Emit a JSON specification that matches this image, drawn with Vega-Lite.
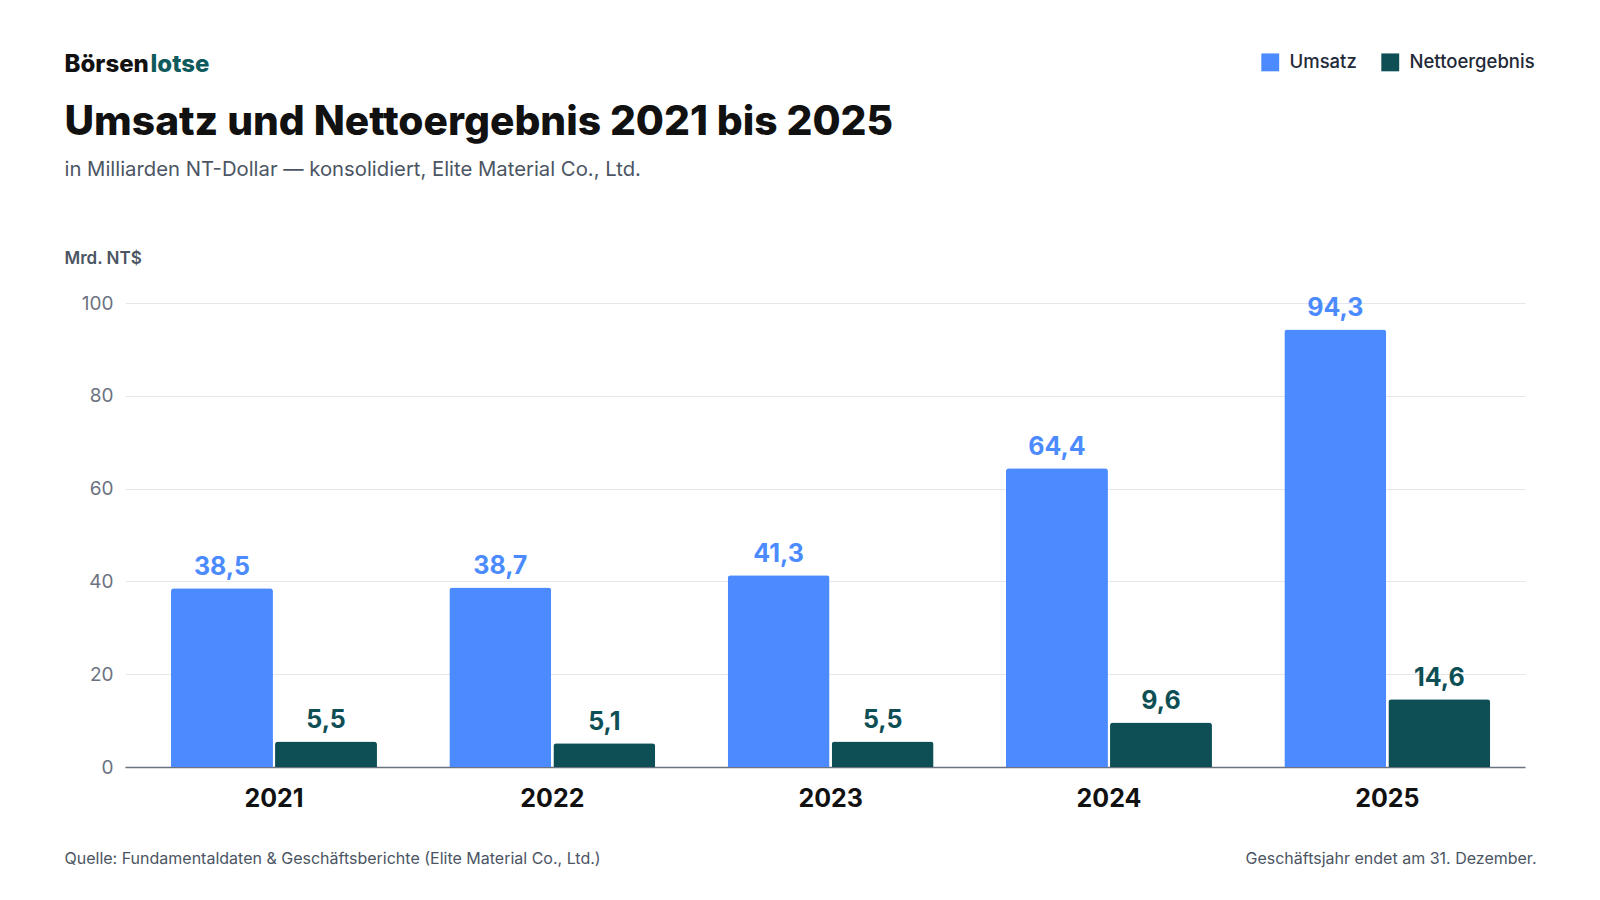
{
  "$schema": "https://vega.github.io/schema/vega-lite/v6.json",
  "autosize": "none",
  "width": 1400,
  "height": 464,
  "padding": {"left": 125, "top": 303, "right": 75, "bottom": 133},
  "background": "white",
  "config": {
    "font": "Inter",
    "locale": {"number": {"decimal": ",", "thousands": ".", "grouping": [3], "currency": ["", " €"]}},
    "view": {"stroke": null},
    "axis": {"labelFont": "Inter", "titleFont": "Inter"}
  },
  "data": {
    "values": [
      {"Jahr": "2021", "Kennzahl": "Umsatz", "Wert": 38.5},
      {"Jahr": "2021", "Kennzahl": "Nettoergebnis", "Wert": 5.5},
      {"Jahr": "2022", "Kennzahl": "Umsatz", "Wert": 38.7},
      {"Jahr": "2022", "Kennzahl": "Nettoergebnis", "Wert": 5.1},
      {"Jahr": "2023", "Kennzahl": "Umsatz", "Wert": 41.3},
      {"Jahr": "2023", "Kennzahl": "Nettoergebnis", "Wert": 5.5},
      {"Jahr": "2024", "Kennzahl": "Umsatz", "Wert": 64.4},
      {"Jahr": "2024", "Kennzahl": "Nettoergebnis", "Wert": 9.6},
      {"Jahr": "2025", "Kennzahl": "Umsatz", "Wert": 94.3},
      {"Jahr": "2025", "Kennzahl": "Nettoergebnis", "Wert": 14.6}
    ]
  },
  "encoding": {
    "x": {"field": "Jahr", "type": "nominal", "scale": {"paddingInner": 0.26, "paddingOuter": 0.145, "align": 0.57}},
    "xOffset": {"field": "Kennzahl", "type": "nominal", "sort": ["Umsatz", "Nettoergebnis"], "scale": {"paddingInner": 0.02}},
    "y": {"field": "Wert", "type": "quantitative", "scale": {"domain": [0, 100]}}
  },
  "layer": [
    {
      "encoding": {
        "x": {"field": "Jahr", "type": "nominal", "axis": {
          "title": "Quelle: Fundamentaldaten & Geschäftsberichte (Elite Material Co., Ltd.)",
          "titleX": -61, "titleY": 96, "titleAnchor": "start", "titleAlign": "left", "titleBaseline": "alphabetic",
          "titleFontSize": 16, "titleFontWeight": "normal", "titleColor": "#4b5563",
          "labelAngle": 0, "labelFontSize": 25, "labelFontWeight": "bold", "labelColor": "#111111", "labelPadding": 19,
          "ticks": false, "domainColor": "#6b7280", "domainWidth": 1.5, "grid": false
        }},
        "y": {"field": "Wert", "type": "quantitative", "axis": {
          "title": "Mrd. NT$", "titleAngle": 0, "titleX": -61, "titleY": -40, "titleAlign": "left", "titleBaseline": "alphabetic",
          "titleFontSize": 17, "titleFontWeight": 600, "titleColor": "#4b5563",
          "values": [0, 20, 40, 60, 80, 100], "labelFontSize": 19, "labelColor": "#6b7280", "labelPadding": 12,
          "ticks": false, "domain": false, "gridColor": "#e5e7eb"
        }},
        "color": {"field": "Kennzahl", "type": "nominal", "sort": ["Umsatz", "Nettoergebnis"],
          "scale": {"domain": ["Umsatz", "Nettoergebnis"], "range": ["#4b8bff", "#0e4f56"]},
          "legend": {"orient": "none", "legendX": 1136, "legendY": -250, "direction": "horizontal", "title": null,
            "symbolType": "square", "symbolSize": 320, "symbolStrokeWidth": 0, "symbolOpacity": 1,
            "labelFontSize": 18.5, "labelFontWeight": 500, "labelColor": "#1f2937", "columnPadding": 24, "labelOffset": 10}}
      },
      "layer": [
        {"mark": {"type": "bar", "cornerRadiusTopLeft": 3, "cornerRadiusTopRight": 3}},
        {
          "mark": {"type": "text", "dy": -8, "fontSize": 25, "fontWeight": "bold", "baseline": "bottom"},
          "encoding": {"text": {"field": "Wert", "type": "quantitative", "format": ".1f"}}
        }
      ]
    },
    {
      "mark": {"type": "text", "opacity": 0},
      "encoding": {"x": {"field": "Jahr", "type": "nominal", "axis": {"orient": "top", "labels": false, "ticks": false, "domain": false, "grid": false,
        "title": "Börsen", "titleX": -61, "titleY": -232, "titleAnchor": "start", "titleAlign": "left", "titleBaseline": "alphabetic",
        "titleFontSize": 24, "titleFontWeight": 800, "titleColor": "#111111"}}}
    },
    {
      "mark": {"type": "text", "opacity": 0},
      "encoding": {"x": {"field": "Jahr", "type": "nominal", "axis": {"orient": "top", "labels": false, "ticks": false, "domain": false, "grid": false,
        "title": "lotse", "titleX": 25, "titleY": -232, "titleAnchor": "start", "titleAlign": "left", "titleBaseline": "alphabetic",
        "titleFontSize": 24, "titleFontWeight": 800, "titleColor": "#0e5a5c"}}}
    },
    {
      "mark": {"type": "text", "opacity": 0},
      "encoding": {"x": {"field": "Jahr", "type": "nominal", "axis": {"orient": "top", "labels": false, "ticks": false, "domain": false, "grid": false,
        "title": "Umsatz und Nettoergebnis 2021 bis 2025", "titleX": -61, "titleY": -169, "titleAnchor": "start", "titleAlign": "left", "titleBaseline": "alphabetic",
        "titleFontSize": 40.7, "titleFontWeight": 800, "titleColor": "#111111"}}}
    },
    {
      "mark": {"type": "text", "opacity": 0},
      "encoding": {"x": {"field": "Jahr", "type": "nominal", "axis": {"orient": "top", "labels": false, "ticks": false, "domain": false, "grid": false,
        "title": "in Milliarden NT-Dollar — konsolidiert, Elite Material Co., Ltd.", "titleX": -61, "titleY": -128, "titleAnchor": "start", "titleAlign": "left", "titleBaseline": "alphabetic",
        "titleFontSize": 20.3, "titleFontWeight": "normal", "titleColor": "#4b5563"}}}
    },
    {
      "mark": {"type": "text", "opacity": 0},
      "encoding": {"x": {"field": "Jahr", "type": "nominal", "axis": {"orient": "bottom", "labels": false, "ticks": false, "domain": false, "grid": false,
        "title": "Geschäftsjahr endet am 31. Dezember.", "titleX": 1411, "titleY": 96, "titleAnchor": "end", "titleAlign": "right", "titleBaseline": "alphabetic",
        "titleFontSize": 16, "titleFontWeight": "normal", "titleColor": "#4b5563"}}}
    }
  ],
  "resolve": {"axis": {"x": "independent"}}
}
